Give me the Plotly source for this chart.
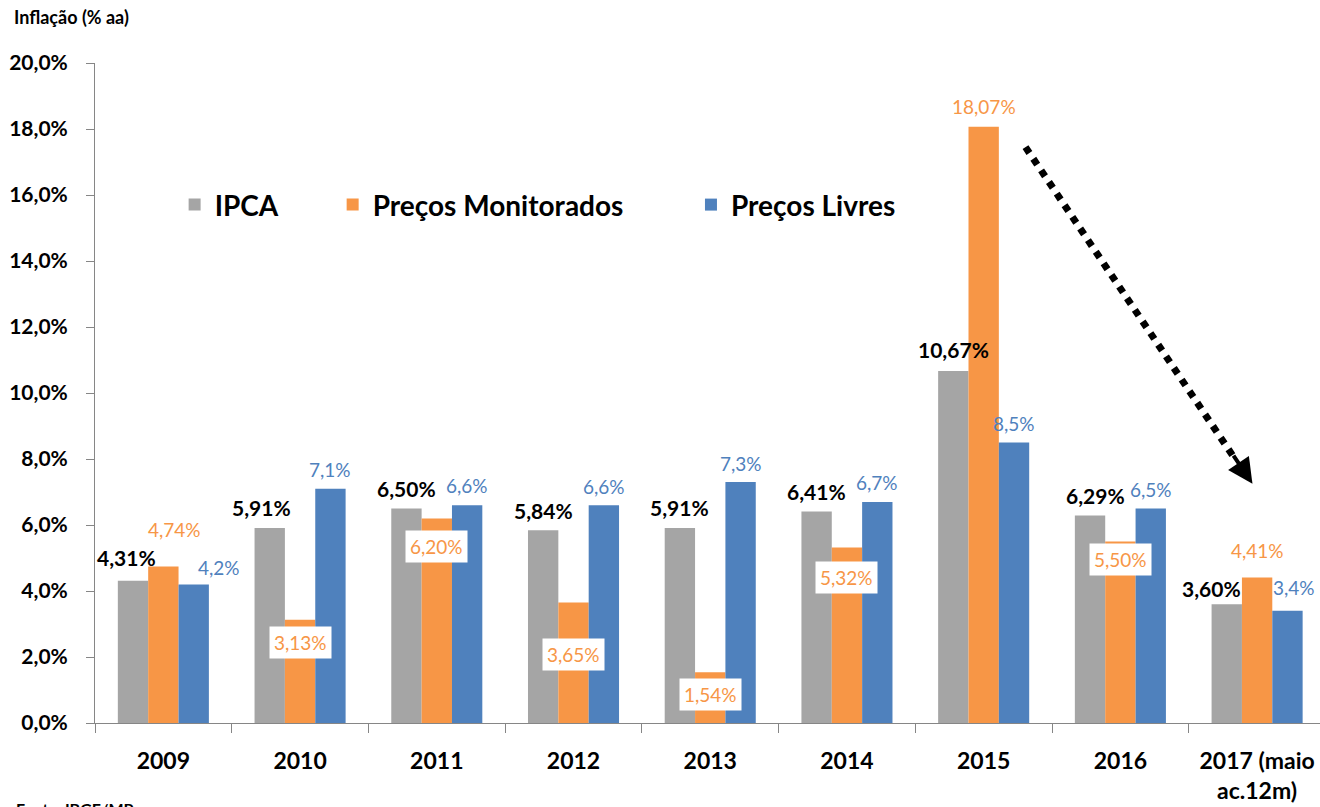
import plotly.graph_objects as go

# Inflation by year (% per year)
years = ["2009", "2010", "2011", "2012", "2013", "2014", "2015", "2016", "2017 (maio<br>ac.12m)"]
ipca = [4.31, 5.91, 6.50, 5.84, 5.91, 6.41, 10.67, 6.29, 3.60]
monitorados = [4.74, 3.13, 6.20, 3.65, 1.54, 5.32, 18.07, 5.50, 4.41]
livres = [4.2, 7.1, 6.6, 6.6, 7.3, 6.7, 8.5, 6.5, 3.4]
y_ticks = [0, 2, 4, 6, 8, 10, 12, 14, 16, 18, 20]

GRAY = "#A5A5A5"
ORANGE = "#F79646"
BLUE = "#4F81BD"
FONT = "Lato"

# label placement tweaks (pixels): vertical offset of label centre from bar top, horizontal shift
ipca_dy = [23, 20, 20, 20, 20, 20, 21, 20, 16]
ipca_dx = [-7, -8, 0, 0, 0, 0, 0, 5, -15]
mon_dy = [37, -23, -28, -52, -22, -30, 20, -18, 27]
mon_dx = [11, 0, 0, 0, 0, 0, 0, 0, 0]
liv_dy = [17, 19, 20, 19, 19, 19, 19, 19, 23]
liv_dx = [25, 0, 0, 0, 0, 0, 0, 0, 7]

BARGAP = 0.334
bar_w = (1 - BARGAP) / 3


def br(v, nd):
    return f"{v:.{nd}f}%".replace(".", ",")


fig = go.Figure()
fig.add_trace(go.Bar(x=years, y=ipca, name="IPCA", marker=dict(color=GRAY, line=dict(width=0)),
                     legend="legend"))
fig.add_trace(go.Bar(x=years, y=monitorados, name="Preços Monitorados",
                     marker=dict(color=ORANGE, line=dict(width=0)), legend="legend2"))
fig.add_trace(go.Bar(x=years, y=livres, name="Preços Livres",
                     marker=dict(color=BLUE, line=dict(width=0)), legend="legend3"))

annotations = []
for i in range(len(years)):
    annotations.append(dict(
        x=i - bar_w, y=ipca[i], xref="x", yref="y", text=br(ipca[i], 2), showarrow=False,
        yanchor="middle", yshift=ipca_dy[i], xshift=ipca_dx[i],
        font=dict(family=FONT, size=21, color="#000000", weight="bold")))
    inside = mon_dy[i] < 0
    annotations.append(dict(
        x=i, y=monitorados[i], xref="x", yref="y", text=br(monitorados[i], 2), showarrow=False,
        yanchor="middle", yshift=mon_dy[i], xshift=mon_dx[i],
        bgcolor="#FFFFFF" if inside else "rgba(0,0,0,0)", borderpad=4,
        font=dict(family=FONT, size=19, color=ORANGE)))
    annotations.append(dict(
        x=i + bar_w, y=livres[i], xref="x", yref="y", text=br(livres[i], 1), showarrow=False,
        yanchor="middle", yshift=liv_dy[i], xshift=liv_dx[i],
        font=dict(family=FONT, size=19, color=BLUE)))

# arrowhead of the downward trend arrow
annotations.append(dict(
    x=7.966, y=7.25, ax=7.82, ay=8.15, xref="x", yref="y", axref="x", ayref="y",
    text="", showarrow=True, arrowhead=2, arrowsize=1.25, arrowwidth=4, arrowcolor="#000000",
    standoff=0))

# source note at the bottom
annotations.append(dict(
    x=(14 - 95) / 1225, y=-0.112, xref="paper", yref="paper", text="Fonte: IBGE/MP",
    showarrow=False, xanchor="left", yanchor="top",
    font=dict(family=FONT, size=16, color="#000000", weight="bold")))

shapes = [dict(
    type="line", xref="x", yref="y", x0=6.306, y0=17.45, x1=7.83, y1=8.05,
    line=dict(color="#000000", width=7, dash="dot"))]

legend_common = dict(
    orientation="h", yref="paper", y=0.785, yanchor="middle", xanchor="left",
    bgcolor="rgba(0,0,0,0)", borderwidth=0,
    font=dict(family=FONT, size=28, color="#000000", weight="bold"))

fig.update_layout(
    width=1320, height=807,
    margin=dict(l=95, r=0, t=63, b=84),
    paper_bgcolor="#FFFFFF", plot_bgcolor="#FFFFFF",
    separators=",.",
    showlegend=True,
    barmode="group", bargap=BARGAP, bargroupgap=0,
    title=dict(text="Inflação (% aa)", x=14 / 1320, y=1 - 18 / 807, xref="container",
               yref="container", xanchor="left", yanchor="middle",
               font=dict(family=FONT, size=18, color="#000000", weight="bold")),
    xaxis=dict(type="category", range=[-0.5, 8.46], showline=True, linecolor="#868686",
               linewidth=1, ticks="outside", tickson="boundaries", ticklen=9,
               tickcolor="#868686", showgrid=False, ticklabelstandoff=17,
               tickfont=dict(family=FONT, size=23, color="#000000", weight="bold")),
    yaxis=dict(range=[0, 20], tickmode="array", tickvals=y_ticks,
               ticktext=[br(v, 1) for v in y_ticks], showline=True, linecolor="#868686",
               linewidth=1, ticks="outside", ticklen=8, tickcolor="#868686",
               showgrid=False, zeroline=False, ticklabelstandoff=14,
               tickfont=dict(family=FONT, size=21, color="#000000", weight="bold")),
    legend=dict(x=0.065, **legend_common),
    legend2=dict(x=0.194, **legend_common),
    legend3=dict(x=0.4865, **legend_common),
    annotations=annotations,
    shapes=shapes,
)

fig.write_html("out.html")
